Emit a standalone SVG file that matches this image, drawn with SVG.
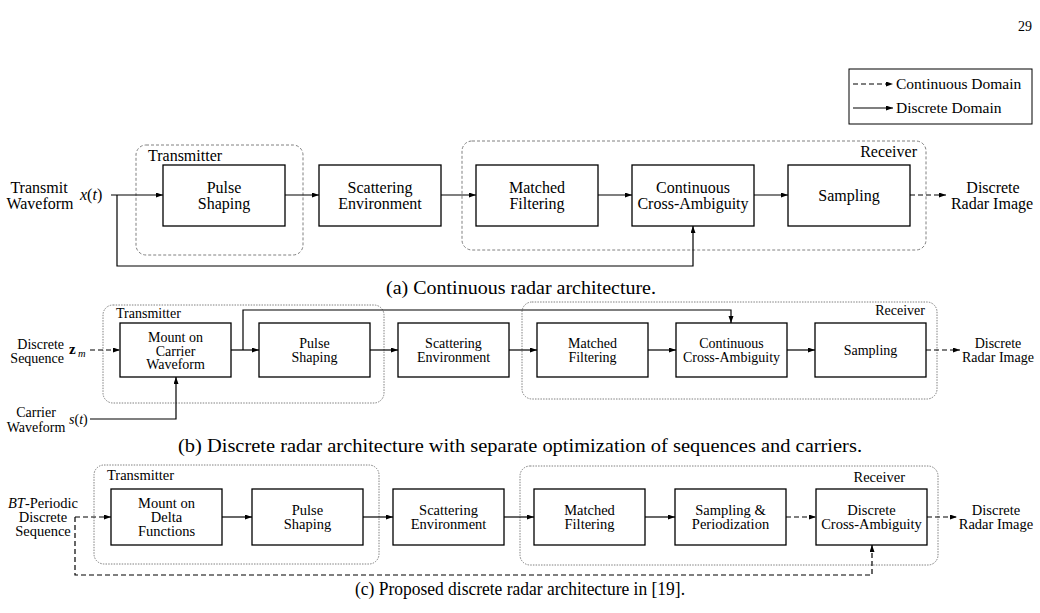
<svg xmlns="http://www.w3.org/2000/svg" width="1040" height="613" viewBox="0 0 1040 613">
<defs>
<marker id="arr" markerUnits="userSpaceOnUse" markerWidth="8" markerHeight="6" refX="7" refY="2.5" orient="auto"><path d="M0,0 L7,2.5 L0,5 z" fill="#000"/></marker>
<style>
text{font-family:"Liberation Serif","Times New Roman",serif;fill:#000}
.a{font-size:16px}
.b{font-size:14px}
.c{font-size:14.5px}
.cap{font-size:19px}
.lg{font-size:15.5px}
.m{text-anchor:middle}
.e{text-anchor:end}
.it{font-style:italic}
.box{fill:#fff;stroke:#000;stroke-width:1.3}
.frA{fill:none;stroke:#808080;stroke-width:1;stroke-dasharray:3 2}
.frB{fill:none;stroke:#808080;stroke-width:1;stroke-dasharray:1.5 1.2}
.w{fill:none;stroke:#000;stroke-width:1.2}
.d{stroke-dasharray:5 3}
.ar{marker-end:url(#arr)}
</style>
</defs>
<rect width="1040" height="613" fill="#fff"/>
<text x="1032" y="31" class="e" style="font-size:14px">29</text>

<g id="legend">
<rect x="849" y="69" width="183" height="55" fill="#fff" stroke="#000" stroke-width="1"/>
<path class="w d ar" d="M853,84 H893"/>
<text x="896" y="89" class="lg">Continuous Domain</text>
<path class="w ar" d="M853,108 H893"/>
<text x="896" y="113" class="lg">Discrete Domain</text>
</g>

<!-- ===== (a) ===== -->
<g id="a-transmitter"><rect class="frA" x="136" y="145" width="167" height="110" rx="10"/><text x="148" y="161" class="a">Transmitter</text></g>
<g id="a-receiver"><rect class="frA" x="462" y="141" width="464" height="109" rx="10"/><text x="917" y="157" class="a e">Receiver</text></g>
<g id="a-input"><text x="39" y="193" class="a m">Transmit</text><text x="40" y="209" class="a m">Waveform</text><text x="80" y="200" class="a"><tspan class="it">x</tspan>(<tspan class="it">t</tspan>)</text></g>
<g id="a-pulse"><rect class="box" x="163" y="165" width="122" height="61"/><text x="224" y="193" class="a m">Pulse</text><text x="224" y="209" class="a m">Shaping</text></g>
<g id="a-scatter"><rect class="box" x="319" y="165" width="122" height="61"/><text x="380" y="193" class="a m">Scattering</text><text x="380" y="209" class="a m">Environment</text></g>
<g id="a-matched"><rect class="box" x="476" y="165" width="122" height="61"/><text x="537" y="193" class="a m">Matched</text><text x="537" y="209" class="a m">Filtering</text></g>
<g id="a-cca"><rect class="box" x="632" y="165" width="122" height="61"/><text x="693" y="193" class="a m">Continuous</text><text x="693" y="209" class="a m">Cross-Ambiguity</text></g>
<g id="a-sampling"><rect class="box" x="788" y="165" width="122" height="61"/><text x="849" y="201" class="a m">Sampling</text></g>
<g id="a-output"><text x="993" y="193" class="a m">Discrete</text><text x="992" y="209" class="a m">Radar Image</text></g>
<text x="521" y="294" class="cap m" textLength="270" lengthAdjust="spacingAndGlyphs">(a) Continuous radar architecture.</text>

<!-- ===== (b) ===== -->
<g id="b-transmitter"><rect class="frB" x="103" y="305" width="281" height="98" rx="10"/><text x="116" y="318" class="b">Transmitter</text></g>
<g id="b-receiver"><rect class="frB" x="522" y="302" width="415" height="97" rx="10"/><text x="925" y="315" class="b e">Receiver</text></g>
<g id="b-input"><text x="64" y="348.5" class="b e">Discrete</text><text x="64" y="362.5" class="b e">Sequence</text><text x="69" y="354" style="font-size:15px;font-weight:bold">z</text><text x="78" y="357" class="it" style="font-size:10.5px">m</text></g>
<g id="b-carrier"><text x="36" y="417" class="b m">Carrier</text><text x="36" y="432" class="b m">Waveform</text><text x="69" y="424" class="b"><tspan class="it">s</tspan>(<tspan class="it">t</tspan>)</text></g>
<g id="b-mount"><rect class="box" x="120" y="323" width="111" height="54"/><text x="175.5" y="342" class="b m">Mount on</text><text x="175.5" y="355.5" class="b m">Carrier</text><text x="175.5" y="369" class="b m">Waveform</text></g>
<g id="b-pulse"><rect class="box" x="259" y="323" width="111" height="54"/><text x="314.5" y="348" class="b m">Pulse</text><text x="314.5" y="362" class="b m">Shaping</text></g>
<g id="b-scatter"><rect class="box" x="398" y="323" width="111" height="54"/><text x="453.5" y="348" class="b m">Scattering</text><text x="453.5" y="362" class="b m">Environment</text></g>
<g id="b-matched"><rect class="box" x="537" y="323" width="111" height="54"/><text x="592.5" y="348" class="b m">Matched</text><text x="592.5" y="362" class="b m">Filtering</text></g>
<g id="b-cca"><rect class="box" x="676" y="323" width="111" height="54"/><text x="731.5" y="348" class="b m">Continuous</text><text x="731.5" y="362" class="b m">Cross-Ambiguity</text></g>
<g id="b-sampling"><rect class="box" x="815" y="323" width="111" height="54"/><text x="870.5" y="355" class="b m">Sampling</text></g>
<g id="b-output"><text x="998" y="348" class="b m">Discrete</text><text x="998" y="362" class="b m">Radar Image</text></g>
<text x="520" y="452" class="cap m" textLength="684" lengthAdjust="spacingAndGlyphs">(b) Discrete radar architecture with separate optimization of sequences and carriers.</text>

<!-- ===== (c) ===== -->
<g id="c-transmitter"><rect class="frB" x="94" y="465" width="285" height="99" rx="10"/><text x="107" y="480" class="c">Transmitter</text></g>
<g id="c-receiver"><rect class="frB" x="520" y="466" width="418" height="99" rx="10"/><text x="905" y="482" class="c e">Receiver</text></g>
<g id="c-input"><text x="43" y="508" class="c m"><tspan class="it">BT</tspan>-Periodic</text><text x="43" y="522" class="c m">Discrete</text><text x="43" y="536" class="c m">Sequence</text></g>
<g id="c-mount"><rect class="box" x="111" y="489" width="111" height="56"/><text x="166.5" y="508" class="c m">Mount on</text><text x="166.5" y="522" class="c m">Delta</text><text x="166.5" y="536" class="c m">Functions</text></g>
<g id="c-pulse"><rect class="box" x="252" y="489" width="111" height="56"/><text x="307.5" y="515" class="c m">Pulse</text><text x="307.5" y="529" class="c m">Shaping</text></g>
<g id="c-scatter"><rect class="box" x="393" y="489" width="111" height="56"/><text x="448.5" y="515" class="c m">Scattering</text><text x="448.5" y="529" class="c m">Environment</text></g>
<g id="c-matched"><rect class="box" x="534" y="489" width="111" height="56"/><text x="589.5" y="515" class="c m">Matched</text><text x="589.5" y="529" class="c m">Filtering</text></g>
<g id="c-sampling"><rect class="box" x="675" y="489" width="111" height="56"/><text x="730.5" y="515" class="c m">Sampling &amp;</text><text x="730.5" y="529" class="c m">Periodization</text></g>
<g id="c-dca"><rect class="box" x="816" y="489" width="111" height="56"/><text x="871.5" y="515" class="c m">Discrete</text><text x="871.5" y="529" class="c m">Cross-Ambiguity</text></g>
<g id="c-output"><text x="996" y="515" class="c m">Discrete</text><text x="996" y="529" class="c m">Radar Image</text></g>
<text x="520" y="595" class="cap m" textLength="330" lengthAdjust="spacingAndGlyphs">(c) Proposed discrete radar architecture in [19].</text>

<g id="connectors">
<!-- a -->
<path class="w ar" d="M111,195 H163"/>
<path class="w ar" d="M117,195 V266 H693 V226"/>
<path class="w ar" d="M285,195 H319"/>
<path class="w ar" d="M441,195 H476"/>
<path class="w ar" d="M598,195 H632"/>
<path class="w ar" d="M754,195 H788"/>
<path class="w d ar" d="M910,195 H946"/>
<!-- b -->
<path class="w d ar" d="M90,350 H120"/>
<path class="w ar" d="M231,350 H259"/>
<path class="w ar" d="M243,350 V310 H731 V323"/>
<path class="w ar" d="M370,350 H398"/>
<path class="w ar" d="M509,350 H537"/>
<path class="w ar" d="M648,350 H676"/>
<path class="w ar" d="M787,350 H815"/>
<path class="w d ar" d="M926,350 H960"/>
<path class="w ar" d="M90,419 H176 V377"/>
<!-- c -->
<path class="w d ar" d="M75,517 H111"/>
<path class="w d ar" d="M75,517 V575 H872 V545"/>
<path class="w ar" d="M222,517 H252"/>
<path class="w ar" d="M363,517 H393"/>
<path class="w ar" d="M504,517 H534"/>
<path class="w ar" d="M645,517 H675"/>
<path class="w d ar" d="M786,517 H816"/>
<path class="w d ar" d="M927,517 H957"/>
</g>
</svg>
